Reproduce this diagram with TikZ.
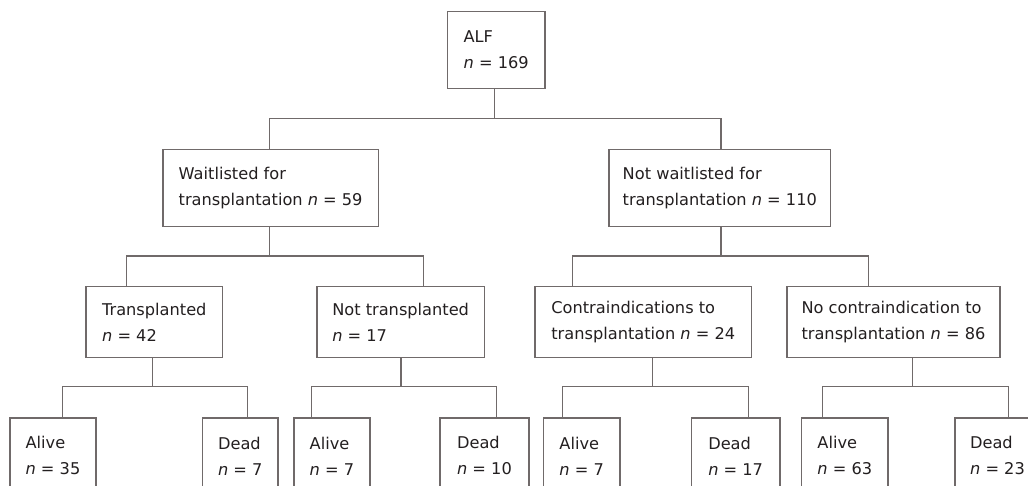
\documentclass[tikz,border=0pt]{standalone}
\usepackage{fontspec}
\setmainfont{DejaVu Sans}
\definecolor{linegray}{RGB}{112,106,106}
\definecolor{textdark}{RGB}{35,31,32}
\NewDocumentCommand{\drawbranch}{m m m m m m m}{
    \def\parentX{#2}
    \def\forkY{#3}
    \def\leftX{#5}
    \def\rightX{#7}
    
    % stem out of the parent, then the fork down to both children
    \draw (#1.south -| \parentX,0) -- (\parentX,\forkY);
    \draw (#4.north -| \leftX,0) |- (\rightX,\forkY) -- (#6.north -| \rightX,0);
}

\begin{document}
\begin{tikzpicture}[x=1pt, y=-1pt, line width=1.3pt, color=linegray,
    box/.style={draw, anchor=north west, align=left, inner xsep=2pt, inner ysep=0pt,
        text=textdark, font=\fontsize{16.2}{26}\selectfont}]
        \useasboundingbox (0,0) rectangle (1028,486);
        \fill[white] (0,0) rectangle (1028,486);
        \clip (0,0) rectangle (1028,486);

        \node[box, minimum width=97.6, minimum height=76.7] (alf) at (446.7,11) {ALF\\\textit{n} = 169};

        \def\y{149}
        \node[box, minimum width=215.4, minimum height=77] (wait) at (162.3,\y) {Waitlisted for\\transplantation \textit{n} = 59};
        \node[box, minimum width=221.7, minimum height=77] (notwait) at (608.3,\y) {Not waitlisted for\\transplantation \textit{n} = 110};

        \def\y{286}
        \node[box, minimum width=136.7, minimum height=71] (trans) at (85.3,\y) {Transplanted\\\textit{n} = 42};
        \node[box, minimum width=167.4, minimum height=71] (nottrans) at (316.3,\y) {Not transplanted\\\textit{n} = 17};
        \node[box, minimum width=216.7, minimum height=71] (contra) at (534.3,\y) {Contraindications to\\transplantation \textit{n} = 24};
        \node[box, minimum width=213, minimum height=71] (nocontra) at (786.3,\y) {No contraindication to\\transplantation \textit{n} = 86};

        \def\y{417.3}
        \node[box, minimum width=86, minimum height=76] (alive1) at (9.3,\y) {Alive\\\textit{n} = 35};
        \node[box, minimum width=75.3, minimum height=76] (dead1) at (202,\y) {Dead\\\textit{n} = 7};
        \node[box, minimum width=76, minimum height=76] (alive2) at (293.3,\y) {Alive\\\textit{n} = 7};
        \node[box, minimum width=89, minimum height=76] (dead2) at (439.3,\y) {Dead\\\textit{n} = 10};
        \node[box, minimum width=76.6, minimum height=76] (alive3) at (542.7,\y) {Alive\\\textit{n} = 7};
        \node[box, minimum width=88.6, minimum height=76] (dead3) at (690.7,\y) {Dead\\\textit{n} = 17};
        \node[box, minimum width=86.3, minimum height=76] (alive4) at (801,\y) {Alive\\\textit{n} = 63};
        \node[box, minimum width=85, minimum height=76] (dead4) at (954.3,\y) {Dead\\\textit{n} = 23};

        \drawbranch{alf}{494.3}{118.5}{wait}{269.3}{notwait}{721}
        \drawbranch{wait}{269.3}{256}{trans}{126.7}{nottrans}{423.3}
        \drawbranch{notwait}{721}{256}{contra}{572.3}{nocontra}{868.7}
        \drawbranch{trans}{152.3}{386.5}{alive1}{62.3}{dead1}{247.7}
        \drawbranch{nottrans}{401}{386.5}{alive2}{311.7}{dead2}{496.7}
        \drawbranch{contra}{652.7}{386.5}{alive3}{562.7}{dead3}{748.3}
        \drawbranch{nocontra}{912.7}{386.5}{alive4}{822.7}{dead4}{1008.3}
        
    \end{tikzpicture}
\end{document}
